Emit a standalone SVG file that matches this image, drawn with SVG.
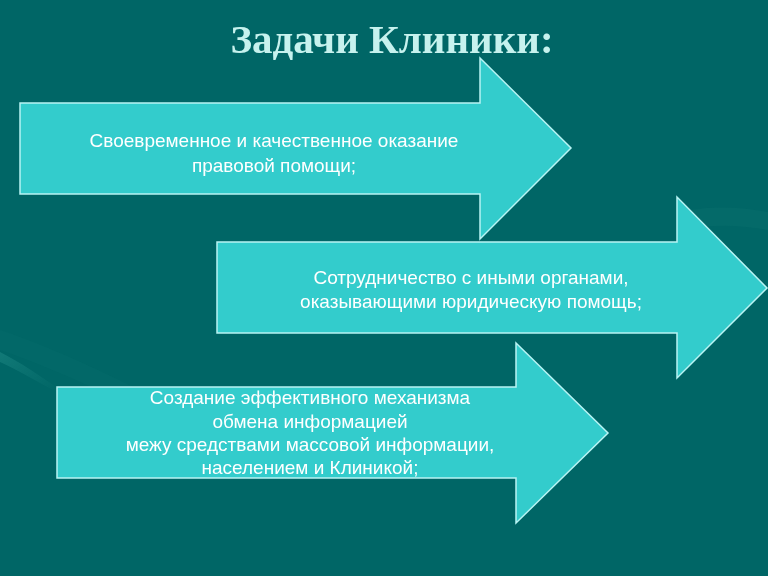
<svg xmlns="http://www.w3.org/2000/svg" width="768" height="576" viewBox="0 0 768 576">
<defs>
<style>
.bg{fill:#006666}
.arrow{fill:#33cccc;stroke:#b8f4f4;stroke-width:1.5;stroke-linejoin:miter}
.t{font-family:"Liberation Sans",Arial,sans-serif;font-size:19px;fill:#ffffff;text-anchor:middle}
.title{font-family:"Liberation Serif","Times New Roman",serif;font-size:41px;font-weight:bold;fill:#c6f2ee;text-anchor:middle}
</style>
<linearGradient id="sw" x1="0" y1="0" x2="1" y2="1">
<stop offset="0" stop-color="#3aa8a0" stop-opacity="0.5"/>
<stop offset="1" stop-color="#3aa8a0" stop-opacity="0"/>
</linearGradient>
</defs>
<rect class="bg" x="0" y="0" width="768" height="576"/>
<g id="decor" opacity="0.6">
<path d="M0 352 C20 362 40 376 58 388 L58 393 C38 382 18 370 0 362 Z" fill="url(#sw)"/>
<path d="M0 330 C60 350 120 380 200 420 L200 440 C120 400 60 370 0 350 Z" fill="#0a7470" opacity="0.4"/>
<path d="M690 210 C720 205 745 208 768 212 L768 230 C745 226 720 224 690 228 Z" fill="#0d7672" opacity="0.5"/>
</g>
<text class="title" x="392" y="53">Задачи Клиники:</text>
<g id="connectors"/>
<g id="node1">
<path class="arrow" d="M20 103 H480 V58 L571 148 L480 239 V194 H20 Z"/>
<text class="t" x="274" y="147">Своевременное и качественное оказание</text>
<text class="t" x="274" y="172">правовой помощи;</text>
</g>
<g id="node2">
<path class="arrow" d="M217 242 H677 V197 L767 288 L677 378 V333 H217 Z"/>
<text class="t" x="471" y="284">Сотрудничество с иными органами,</text>
<text class="t" x="471" y="308">оказывающими юридическую помощь;</text>
</g>
<g id="node3">
<path class="arrow" d="M57 387 H516 V343 L608 433 L516 523 V478 H57 Z"/>
<text class="t" x="310" y="404">Создание эффективного механизма</text>
<text class="t" x="310" y="428">обмена информацией</text>
<text class="t" x="310" y="451">межу средствами массовой информации,</text>
<text class="t" x="310" y="474">населением и Клиникой;</text>
</g>
</svg>
